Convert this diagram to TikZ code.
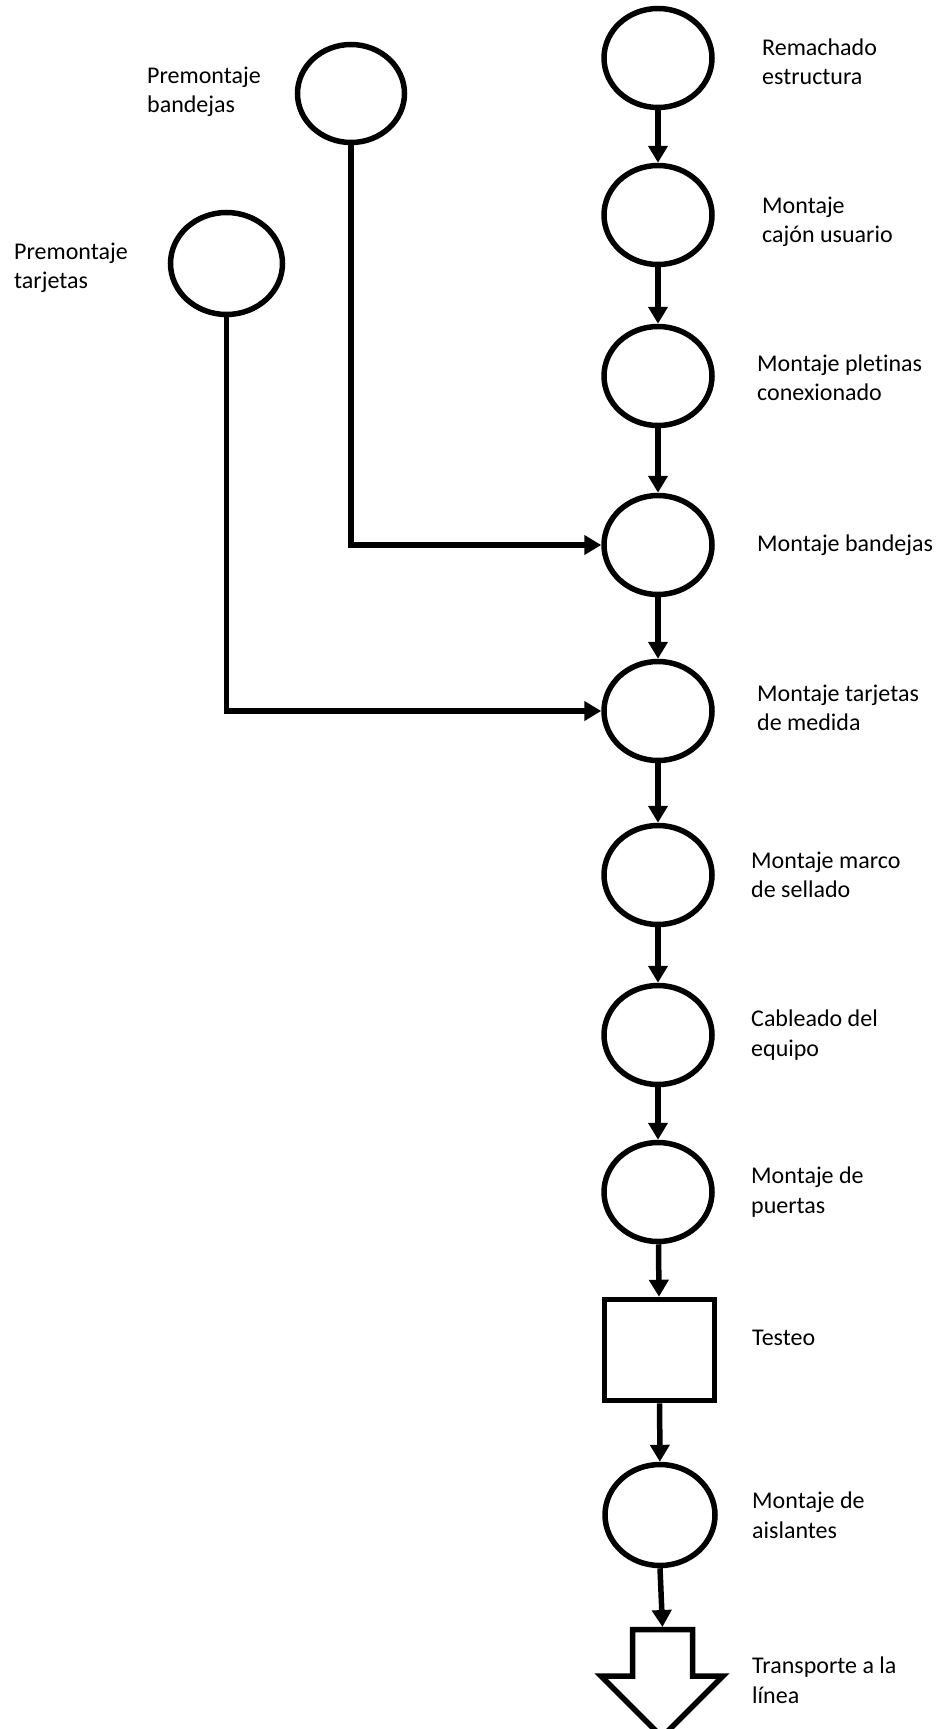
\documentclass[tikz,border=0pt]{standalone}
\usepackage{fontspec}
\setmainfont[RawFeature=-liga]{Carlito}
\usetikzlibrary{arrows.meta,shapes.geometric}

\tikzset{
  op/.style={ellipse, draw, line width=5.5pt, minimum width=108pt, minimum height=99pt, inner sep=0pt},
  testbox/.style={rectangle, draw, line width=5.5pt, minimum width=110pt, minimum height=101pt, inner sep=0pt},
  lbl/.style={anchor=west, align=left, inner sep=0pt, font=\fontsize{24}{29.5}\selectfont},
  flow/.style={line width=5.5pt, -{Triangle[length=17pt,width=19pt]}},
}

\begin{document}
\begin{tikzpicture}[x=1pt,y=-1pt]
\useasboundingbox (0,0) rectangle (943,1729);

% main assembly line
\node[op] (rem) at (658,58) {};
\node[op] (caj) at (658,215) {};
\node[op] (ple) at (658,376) {};
\node[op] (ban) at (658,545) {};
\node[op] (tar) at (658,711) {};
\node[op] (mar) at (658,875) {};
\node[op] (cab) at (658,1035) {};
\node[op] (pue) at (658,1192) {};
\node[testbox] (tes) at (659.5,1350) {};
\node[op, minimum width=110pt, minimum height=101pt] (ais) at (660,1515) {};

% sub-assemblies
\node[op, minimum width=107pt, minimum height=98pt] (pban) at (351,93.5) {};
\node[op, minimum width=112pt, minimum height=102pt] (ptar) at (226.5,263.5) {};

% transport symbol
\coordinate (tra) at (662.5,1627);
\draw[line width=5.5pt, line join=miter]
  (632.5,1629.5) -- (692.5,1629.5) -- (692.5,1676) -- (723,1676)
  -- (662,1737) -- (601,1676) -- (632.5,1676) -- cycle;

% labels
\node[lbl] (lrem) at (762,62) {Remachado\\estructura};
\node[lbl] (lcaj) at (762,222) {Montaje\\cajón usuario};
\node[lbl] (lple) at (757,378) {Montaje pletinas\\conexionado};
\node[lbl] (lban) at (757,545) {Montaje bandejas};
\node[lbl] (ltar) at (757,708) {Montaje tarjetas\\de medida};
\node[lbl] (lmar) at (751,875) {Montaje marco\\de sellado};
\node[lbl] (lcab) at (751,1035) {Cableado del\\equipo};
\node[lbl] (lpue) at (751,1192) {Montaje de\\puertas};
\node[lbl] (ltes) at (752,1338) {Testeo};
\node[lbl] (lais) at (752,1515) {Montaje de\\aislantes};
\node[lbl] (ltra) at (752,1680) {Transporte a la\\línea};
\node[lbl] (lpban) at (147,92) {Premontaje\\bandejas};
\node[lbl] (lptar) at (14,268) {Premontaje\\tarjetas};

% flow connectors
\draw[flow] (rem) -- (caj);
\draw[flow] (caj) -- (ple);
\draw[flow] (ple) -- (ban);
\draw[flow] (ban) -- (tar);
\draw[flow] (tar) -- (mar);
\draw[flow] (mar) -- (cab);
\draw[flow] (cab) -- (pue);
\draw[flow] (pue) -- (tes);
\draw[flow] (tes) -- (ais);
\draw[flow] (ais.south) -- (tra);
\draw[flow] (pban.south) |- (ban.west);
\draw[flow] (ptar.south) |- (tar.west);
\end{tikzpicture}
\end{document}
